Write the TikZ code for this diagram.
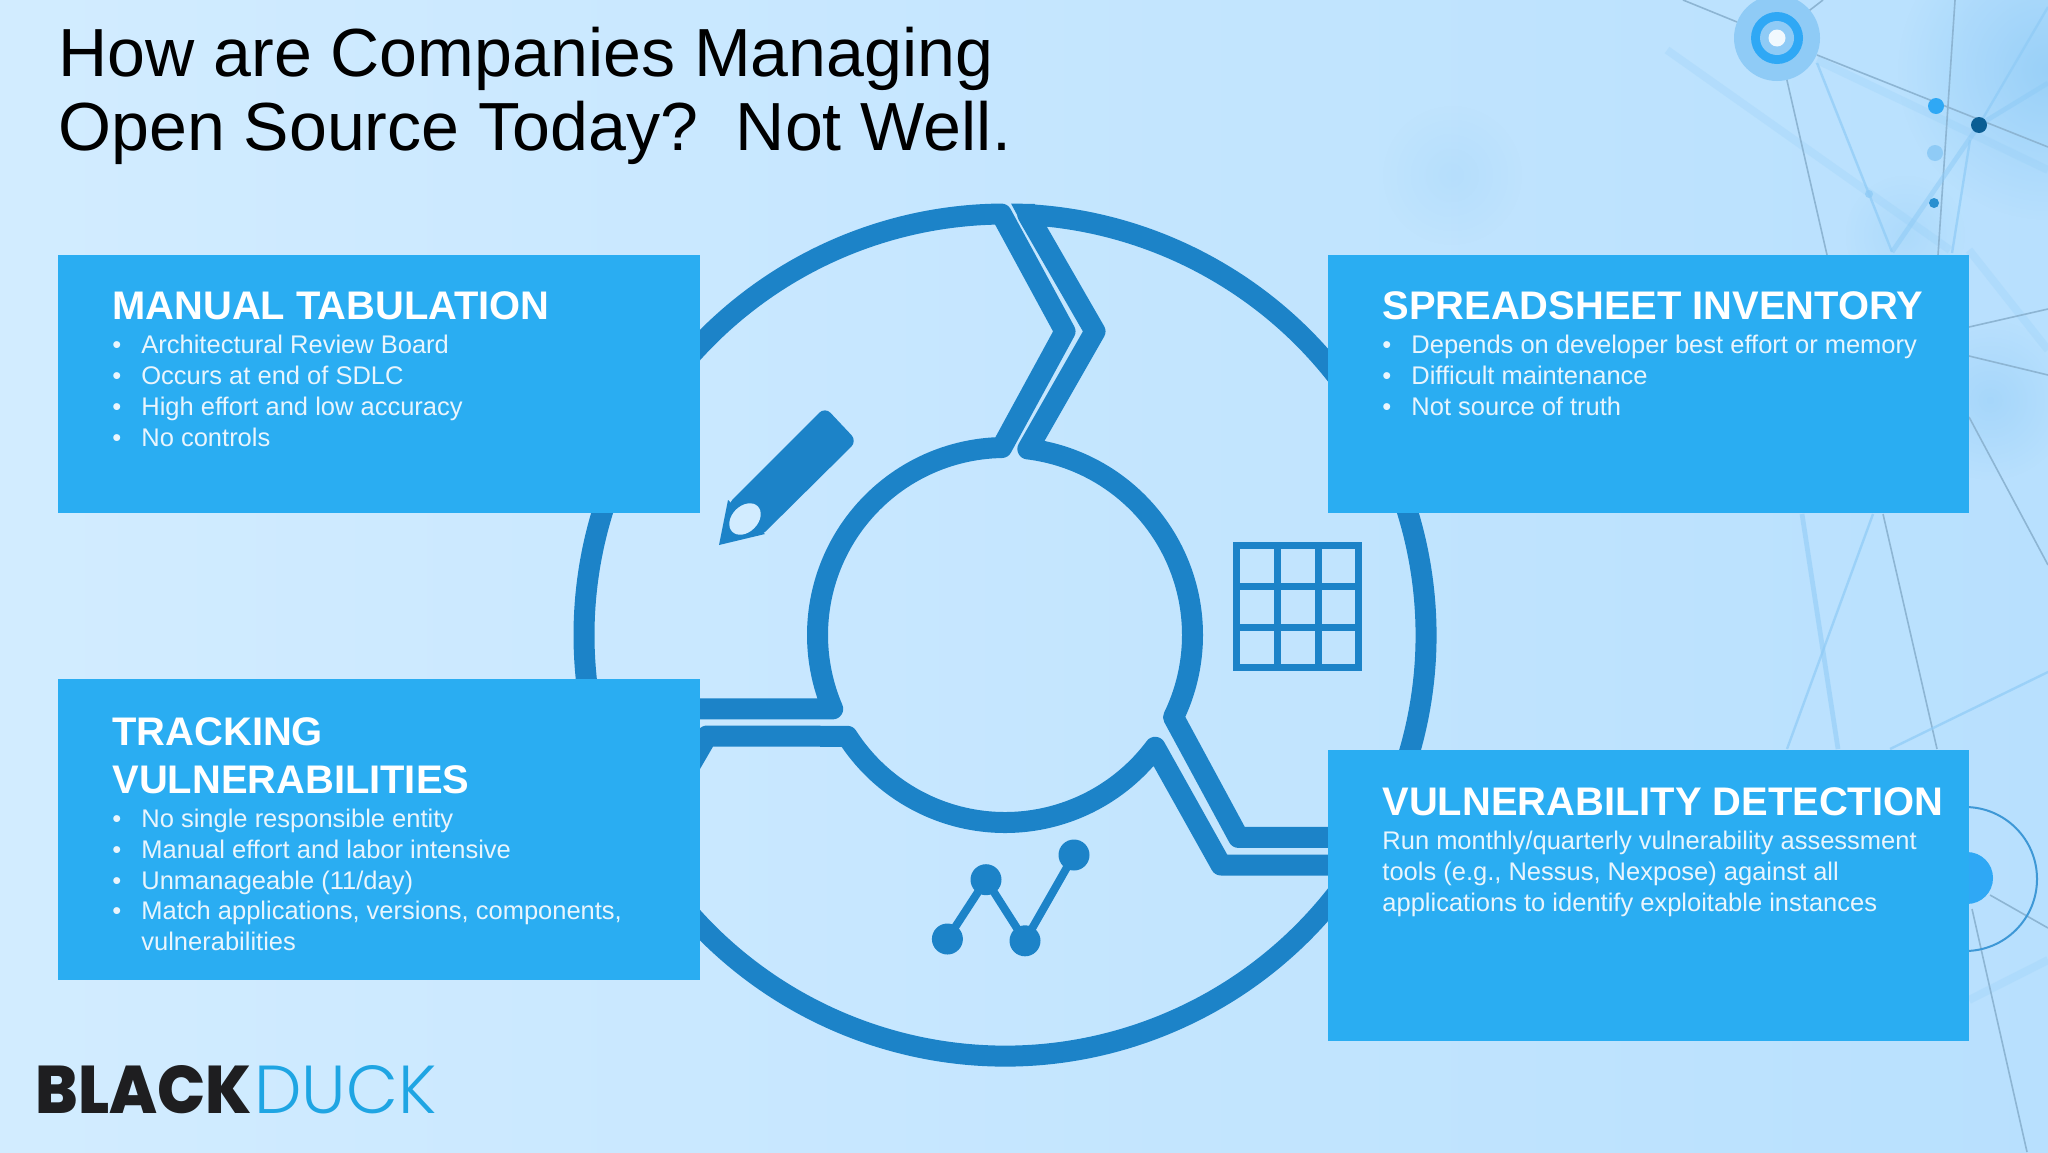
\documentclass[tikz,border=0pt]{standalone}
\usepackage{fontspec}
\usetikzlibrary{fadings}
\setmainfont{Liberation Sans}
\newfontfamily\logoheavy{Poppins}[UprightFont=* ExtraBold]
\newfontfamily\logolight{Poppins}[UprightFont=* Light]
\definecolor{bgL}{HTML}{D2ECFF}
\definecolor{bgR}{HTML}{B8E0FE}
\definecolor{ringc}{HTML}{1C83C8}
\definecolor{boxc}{HTML}{2AADF2}
\definecolor{bodyc}{HTML}{E9F5FD}
\definecolor{netg}{HTML}{8DB5D3}
\definecolor{netl}{HTML}{8FCBF6}
\definecolor{dotb}{HTML}{2FA8F5}
\definecolor{dotd}{HTML}{0B5E94}
\definecolor{logok}{HTML}{1E1E20}
\definecolor{logob}{HTML}{1FA5E3}
\tikzfading[name=softglow,inner color=transparent!0,outer color=transparent!100]
\tikzset{
  panel/.style={fill=boxc,draw=none},
  seg/.style={draw=ringc,line width=10.5pt,line join=round},
  gline/.style={draw=netg,line width=0.8pt},
  sline/.style={draw=netl,line width=1.2pt,opacity=.7},
  wline/.style={draw=netl,line width=2.4pt,opacity=.55},
  fline/.style={draw=netl,line width=4pt,opacity=.22},
  heading/.style={anchor=base west,inner sep=0pt,text=white,font=\fontsize{19.95}{24}\selectfont\bfseries},
  body/.style={anchor=base west,inner sep=0pt,text=bodyc,font=\fontsize{12.75}{16}\selectfont},
  titletext/.style={anchor=base west,inner sep=0pt,text=black,font=\fontsize{34.05}{40}\selectfont},
  blob/.style={fill=#1,path fading=softglow,draw=none}
}
\begin{document}
\begin{tikzpicture}[x=0.5pt,y=0.5pt]
\useasboundingbox (0,0) rectangle (2048,-1152);
\shade[left color=bgL,right color=bgR] (0,0) rectangle (2048,-1152);
% soft glows
\fill[blob=bgL,opacity=.6] (0,-1000) circle (420);
\fill[blob=netl,opacity=.75] (2048,-70) circle (150);
\fill[blob=netl,opacity=.2] (1452,-175) circle (70);
\fill[blob=netl,opacity=.3] (1905,-235) circle (60);
\fill[blob=netl,opacity=.45] (1990,-400) circle (80);
% network
\begin{scope}[yscale=-1]
\draw[fline] (1667,50) -- (1950,250);
\draw[fline] (1817,60) -- (2048,170);
\draw[fline] (1969,250) -- (2048,350);
\draw[fline] (1969,1000) -- (2048,960);
\draw[gline] (1683,0) -- (1737,22);
\draw[gline] (1783,63) -- (1827,255);
\draw[gline] (1817,55) -- (2048,147);
\draw[gline] (1955,0) -- (1938,255);
\draw[gline] (1823,0) -- (1797,20);
\draw[sline] (1817,63) -- (1892,252);
\draw[wline] (1979,125) -- (1892,252);
\draw[sline] (1970,140) -- (1952,253);
\draw[sline] (1979,125) -- (2048,7);
\draw[wline] (1979,125) -- (2048,83);
\draw[gline] (1969,327) -- (2048,309);
\draw[gline] (1969,356) -- (2048,375);
\draw[gline] (1969,417) -- (2048,565);
\draw[gline] (1883,514) -- (1937,749);
\draw[sline] (1873,514) -- (1787,749);
\draw[wline] (1802,514) -- (1838,749);
\draw[sline] (1890,749) -- (2048,672);
\draw[gline] (1990,895) -- (2048,928);
\draw[gline] (1972,909) -- (2027,1152);
\end{scope}
\fill[netl] (1777,-38) circle (43);
\fill[dotb] (1777,-38) circle (26);
\fill[netl] (1777,-38) circle (17);
\fill[white!88!netl] (1777,-38) circle (8.5);
\fill[dotb] (1936,-106) circle (8);
\fill[netl] (1935,-153) circle (8);
\fill[dotb!85!black] (1934,-203) circle (5);
\fill[netl,opacity=.8] (1869,-194) circle (4);
\fill[dotd] (1979,-125) circle (8);
\fill[dotb] (1967,-878) circle (26);
\draw[ringc!70!netl,line width=1pt] (1965,-879) circle (72);
% ring segments
\begin{scope}[shift={(1005,-635)}]
\draw[seg] (-340,-74) -- (203.2:187.5) arc[start angle=203.2,end angle=91,radius=93.75pt]
  -- (60,303.6) -- (90.5:421) arc[start angle=90.5,end angle=190,radius=210.5pt] -- cycle;
\draw[seg] (86.9:421) -- (90,303.6) -- (83:187.5) arc[start angle=83,end angle=-26,radius=93.75pt]
  -- (233.5,-202.4) -- (340,-202.4) -- (-28.7:421) arc[start angle=-28.7,end angle=86.9,radius=210.5pt] -- cycle;
\fill[ringc] (6,431.5) -- (30,431) -- (30,411) -- (17,411) -- cycle;
\draw[seg] (340,-230) -- (216,-230) -- (-36.8:187.5) arc[start angle=-36.8,end angle=-147.3,radius=93.75pt]
  -- (-298,-101) -- (-345,-182) -- (205:421) arc[start angle=205,end angle=327,radius=210.5pt] -- cycle;
\end{scope}
% pencil
\fill[ringc,rounded corners=4pt] (727,-505) -- (825,-407) -- (857,-441) -- (760,-537) -- cycle;
\fill[ringc] (719,-545) -- (728,-500) -- (765,-534) -- cycle;
\fill[bgL,rotate around={45:(745,-519)}] (745,-519) ellipse (18 and 13);
% table
\draw[ringc,line width=3.5pt] (1236.4,-545.7) rectangle (1358.3,-667.8);
\draw[ringc,line width=3.5pt] (1277.3,-545.7) -- (1277.3,-667.8) (1318.4,-545.7) -- (1318.4,-667.8)
  (1236.4,-586.8) -- (1358.3,-586.8) (1236.4,-627.3) -- (1358.3,-627.3);
% chart
\draw[ringc,line width=4pt,line join=round] (947.4,-939) -- (986,-879.7) -- (1025,-940.8) -- (1074,-855);
\fill[ringc] (947.4,-939) circle (15.5) (986,-879.7) circle (15.5) (1025,-940.8) circle (15.5) (1074,-855) circle (15.5);
% panels
\fill[panel] (58,-255) rectangle (700,-513.4);
\fill[panel] (1328,-255) rectangle (1969,-513.4);
\fill[panel] (58,-679) rectangle (700,-979.5);
\fill[panel] (1328,-749.5) rectangle (1969,-1041);
% title
\node[titletext] (t1) at (58,-76) {How are Companies Managing};
\node[titletext] (t2) at (58,-150) {Open Source Today?\ \ Not Well.};
% manual tabulation
\node[heading] (h1) at (112,-319) {MANUAL TABULATION};
\node[body] (a1) at (112,-353) {•}; \node[body] (a1t) at (141,-353) {Architectural Review Board};
\node[body] (a2) at (112,-384) {•}; \node[body] (a2t) at (141,-384) {Occurs at end of SDLC};
\node[body] (a3) at (112,-415) {•}; \node[body] (a3t) at (141,-415) {High effort and low accuracy};
\node[body] (a4) at (112,-446) {•}; \node[body] (a4t) at (141,-446) {No controls};
% spreadsheet inventory
\node[heading] (h2) at (1382,-319) {SPREADSHEET INVENTORY};
\node[body] (b1) at (1382,-353) {•}; \node[body] (b1t) at (1411,-353) {Depends on developer best effort or memory};
\node[body] (b2) at (1382,-384) {•}; \node[body] (b2t) at (1411,-384) {Difficult maintenance};
\node[body] (b3) at (1382,-415) {•}; \node[body] (b3t) at (1411,-415) {Not source of truth};
% tracking vulnerabilities
\node[heading] (h3a) at (112,-745) {TRACKING};
\node[heading] (h3b) at (112,-793) {VULNERABILITIES};
\node[body] (c1) at (112,-827) {•}; \node[body] (c1t) at (141,-827) {No single responsible entity};
\node[body] (c2) at (112,-858) {•}; \node[body] (c2t) at (141,-858) {Manual effort and labor intensive};
\node[body] (c3) at (112,-889) {•}; \node[body] (c3t) at (141,-889) {Unmanageable (11/day)};
\node[body] (c4) at (112,-919.5) {•}; \node[body] (c4t) at (141,-919.5) {Match applications, versions, components,};
\node[body] (c5t) at (141,-950) {vulnerabilities};
% vulnerability detection
\node[heading] (h4) at (1382,-815) {VULNERABILITY DETECTION};
\node[body] (d1) at (1382,-849.5) {Run monthly/quarterly vulnerability assessment};
\node[body] (d2) at (1382,-880.5) {tools (e.g., Nessus, Nexpose) against all};
\node[body] (d3) at (1382,-911.5) {applications to identify exploitable instances};
% logo
\node[anchor=base west,inner sep=0pt,text=logok] (lg1) at (35,-1113) {\resizebox{108pt}{24pt}{\logoheavy BLACK}};
\node[anchor=base west,inner sep=0pt,text=logob] (lg2) at (254,-1113) {\resizebox{91pt}{24pt}{\logolight DUCK}};
\end{tikzpicture}
\end{document}
